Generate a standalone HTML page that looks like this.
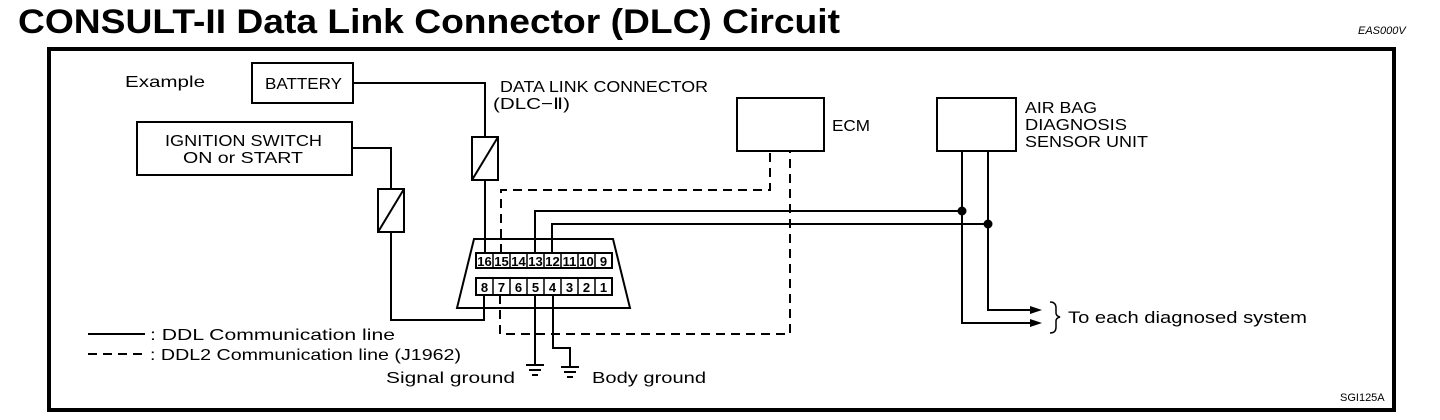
<!DOCTYPE html>
<html><head><meta charset="utf-8"><style>
html,body{margin:0;padding:0;background:#fff;}
svg{display:block;}
text{font-family:"Liberation Sans",sans-serif;fill:#000;}
</style></head><body>
<svg width="1440" height="420" viewBox="0 0 1440 420" xmlns="http://www.w3.org/2000/svg">
<text x="18" y="33" font-size="34" font-weight="bold" textLength="822" lengthAdjust="spacingAndGlyphs">CONSULT-II Data Link Connector (DLC) Circuit</text>
<text x="1358" y="34" font-size="11" font-style="italic">EAS000V</text>
<rect x="49" y="49" width="1345" height="361" fill="none" stroke="#000" stroke-width="4"/>

<g fill="none" stroke="#000" stroke-width="2">
<rect x="252" y="63" width="101" height="40"/>
<rect x="137" y="122" width="215" height="53"/>
<rect x="737" y="98" width="87" height="53"/>
<rect x="937" y="98" width="79" height="53"/>
<polyline points="353,83 485,83 485,137"/>
<rect x="472" y="137" width="26" height="43"/>
<line x1="472" y1="180" x2="498" y2="137"/>
<line x1="485" y1="180" x2="485" y2="253"/>
<polyline points="352,148 391,148 391,189"/>
<rect x="378" y="189" width="26" height="43"/>
<line x1="378" y1="232" x2="404" y2="189"/>
<polyline points="391,232 391,320 484,320 484,295"/>
<polygon points="474,239 613,239 630,308 457,308"/>
<rect x="476" y="253" width="136" height="15"/>
<rect x="476" y="278" width="136" height="17"/>
</g>
<g stroke="#000" stroke-width="1.5">
<line x1="493" y1="253" x2="493" y2="268"/><line x1="510" y1="253" x2="510" y2="268"/><line x1="527" y1="253" x2="527" y2="268"/><line x1="544" y1="253" x2="544" y2="268"/><line x1="561" y1="253" x2="561" y2="268"/><line x1="578" y1="253" x2="578" y2="268"/><line x1="595" y1="253" x2="595" y2="268"/>
<line x1="493" y1="278" x2="493" y2="295"/><line x1="510" y1="278" x2="510" y2="295"/><line x1="527" y1="278" x2="527" y2="295"/><line x1="544" y1="278" x2="544" y2="295"/><line x1="561" y1="278" x2="561" y2="295"/><line x1="578" y1="278" x2="578" y2="295"/><line x1="595" y1="278" x2="595" y2="295"/>
</g>
<g font-size="13" font-weight="bold" text-anchor="middle">
<text x="484.5" y="266">16</text><text x="501.5" y="266">15</text><text x="518.5" y="266">14</text><text x="535.5" y="266">13</text><text x="552.5" y="266">12</text><text x="569.5" y="266">11</text><text x="586.5" y="266">10</text><text x="603.5" y="266">9</text>
<text x="484.5" y="292">8</text><text x="501.5" y="292">7</text><text x="518.5" y="292">6</text><text x="535.5" y="292">5</text><text x="552.5" y="292">4</text><text x="569.5" y="292">3</text><text x="586.5" y="292">2</text><text x="603.5" y="292">1</text>
</g>
<g fill="none" stroke="#000" stroke-width="2">
<polyline points="535,253 535,211 962,211 962,323 1030,323"/>
<polyline points="552,253 552,224 988,224 988,310 1030,310"/>
<line x1="962" y1="151" x2="962" y2="211"/>
<line x1="988" y1="151" x2="988" y2="224"/>
<line x1="535" y1="295" x2="535" y2="365"/>
<polyline points="553,295 553,348 570,348 570,367"/>
</g>
<g stroke="#000" stroke-width="2">
<line x1="526" y1="365" x2="544" y2="365"/><line x1="529" y1="370" x2="541" y2="370"/><line x1="532" y1="375" x2="538" y2="375"/>
<line x1="561" y1="367" x2="579" y2="367"/><line x1="564" y1="372" x2="576" y2="372"/><line x1="567" y1="377" x2="573" y2="377"/>
</g>
<g fill="none" stroke="#000" stroke-width="2" stroke-dasharray="9,6">
<polyline points="501,253 501,190 770,190 770,151"/>
<polyline points="500,295 500,334 790,334 790,151"/>
<line x1="88" y1="354" x2="145" y2="354"/>
</g>
<line x1="88" y1="334" x2="145" y2="334" stroke="#000" stroke-width="2"/>
<circle cx="962" cy="211" r="4.5" fill="#000"/>
<circle cx="988" cy="224" r="4.5" fill="#000"/>
<polygon points="1042,310 1030,306 1030,314" fill="#000"/>
<polygon points="1042,323 1030,319 1030,327" fill="#000"/>
<path d="M1050,302 Q1056,302 1056,308 L1056,313 Q1056,316 1060,317 Q1056,318 1056,321 L1056,327 Q1056,333 1050,333" fill="none" stroke="#000" stroke-width="1.5"/>

<g font-size="16">
<text x="125" y="87" textLength="80" lengthAdjust="spacingAndGlyphs">Example</text>
<text x="265" y="89" textLength="77" lengthAdjust="spacingAndGlyphs">BATTERY</text>
<text x="165" y="146" textLength="157" lengthAdjust="spacingAndGlyphs">IGNITION SWITCH</text>
<text x="183" y="163" textLength="120" lengthAdjust="spacingAndGlyphs">ON or START</text>
<text x="500" y="92" textLength="208" lengthAdjust="spacingAndGlyphs">DATA LINK CONNECTOR</text>
<text x="493" y="109" textLength="77" lengthAdjust="spacingAndGlyphs">(DLC−Ⅱ)</text>
<text x="832" y="131" textLength="38" lengthAdjust="spacingAndGlyphs">ECM</text>
<text x="1025" y="113" textLength="72" lengthAdjust="spacingAndGlyphs">AIR BAG</text>
<text x="1025" y="130" textLength="102" lengthAdjust="spacingAndGlyphs">DIAGNOSIS</text>
<text x="1025" y="147" textLength="123" lengthAdjust="spacingAndGlyphs">SENSOR UNIT</text>
<text x="150" y="340" textLength="245" lengthAdjust="spacingAndGlyphs">: DDL Communication line</text>
<text x="150" y="360" textLength="311" lengthAdjust="spacingAndGlyphs">: DDL2 Communication line (J1962)</text>
<text x="386" y="383" textLength="129" lengthAdjust="spacingAndGlyphs">Signal ground</text>
<text x="592" y="383" textLength="114" lengthAdjust="spacingAndGlyphs">Body ground</text>
<text x="1068" y="323" font-size="17" textLength="239" lengthAdjust="spacingAndGlyphs">To each diagnosed system</text>
</g>
<text x="1340" y="401" font-size="11">SGI125A</text>
</svg>
</body></html>
